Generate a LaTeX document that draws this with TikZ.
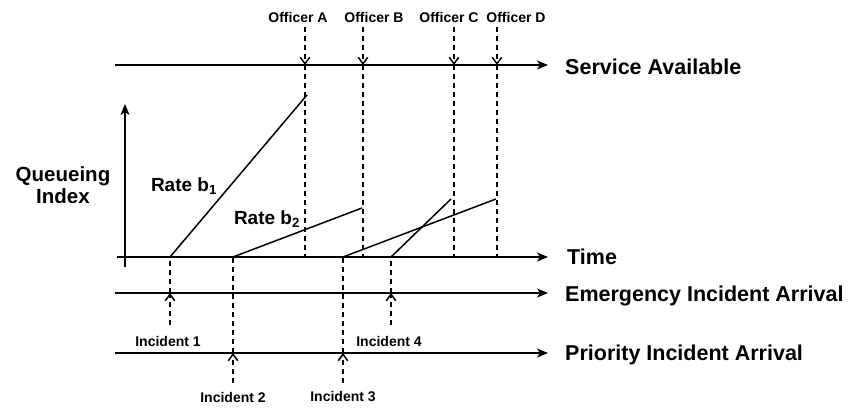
\documentclass[tikz,border=0pt]{standalone}
\usepackage{fontspec}
\setmainfont{Liberation Sans}
\usetikzlibrary{arrows.meta}
\tikzset{
  axisline/.style={line width=1.8pt,-{Stealth[length=11pt,width=9pt,inset=3pt]}},
  rateline/.style={line width=1.5pt},
  dashline/.style={line width=1.5pt,dash pattern=on 5pt off 4pt},
  openarr/.style={dashline,-{Straight Barb[length=6.5pt,width=9.5pt,line width=1.5pt]}},
  biglbl/.style={font=\bfseries\fontsize{21.5}{24}\selectfont,anchor=west,inner sep=0pt},
  ratelbl/.style={font=\bfseries\fontsize{19}{22}\selectfont,inner sep=0pt},
  smalllbl/.style={font=\bfseries\fontsize{14}{16}\selectfont,inner sep=0pt},
}
\begin{document}
\begin{tikzpicture}[x=1pt,y=-1pt]
\useasboundingbox (0,0) rectangle (852,409);
% axes
\coordinate (s0) at (115,65); \coordinate (s1) at (548,65);
\coordinate (t0) at (117,257); \coordinate (t1) at (548,257);
\coordinate (e0) at (115,293); \coordinate (e1) at (548,293);
\coordinate (p0) at (115,353); \coordinate (p1) at (548,353);
\coordinate (v0) at (125,267); \coordinate (v1) at (125,104);
\draw[axisline] (s0) -- (s1);
\draw[axisline] (t0) -- (t1);
\draw[axisline] (e0) -- (e1);
\draw[axisline] (p0) -- (p1);
\draw[axisline] (v0) -- (v1);
% right labels
\node[biglbl] (lserv) at (565,67) {Service Available};
\node[biglbl] (ltime) at (567,257) {Time};
\node[biglbl] (lemer) at (565,296) {Emergency Incident Arrival};
\node[biglbl] (lprio) at (565,355) {Priority Incident Arrival};
% y label
\node[font=\bfseries\fontsize{20.5}{22.5}\selectfont,align=center,inner sep=0pt] (qi) at (63,185) {Queueing\\Index};
% officers
\node[smalllbl] (oA) at (298,17) {Officer A};
\node[smalllbl] (oB) at (374,17) {Officer B};
\node[smalllbl] (oC) at (449,17) {Officer C};
\node[smalllbl] (oD) at (516,17) {Officer D};
\foreach \n/\x in {A/305,B/363,C/454,D/497}{
  \coordinate (ot\n) at (\x,27);
  \coordinate (os\n) at (\x,65);
  \coordinate (ob\n) at (\x,257);
  \draw[openarr] (ot\n) -- (os\n);
  \draw[dashline] (os\n) -- (ob\n);
}
% rate lines
\coordinate (r1a) at (170,257); \coordinate (r1b) at (307,95);
\coordinate (r2a) at (233,257); \coordinate (r2b) at (362,208);
\coordinate (r3a) at (343,257); \coordinate (r3b) at (496,199);
\coordinate (r4a) at (391,257); \coordinate (r4b) at (451,199);
\draw[rateline] (r1a) -- (r1b);
\draw[rateline] (r2a) -- (r2b);
\draw[rateline] (r3a) -- (r3b);
\draw[rateline] (r4a) -- (r4b);
\node[ratelbl] (rb1) at (184,186) {Rate b\textsubscript{1}};
\node[ratelbl] (rb2) at (267,219) {Rate b\textsubscript{2}};
% emergency incidents
\foreach \n/\x in {1/170,4/391}{
  \coordinate (ib\n) at (\x,325);
  \coordinate (ie\n) at (\x,293);
  \coordinate (it\n) at (\x,257);
  \draw[openarr] (ib\n) -- (ie\n);
  \draw[dashline] (ie\n) -- (it\n);
}
% priority incidents
\foreach \n/\x in {2/233,3/343}{
  \coordinate (ib\n) at (\x,383);
  \coordinate (ie\n) at (\x,353);
  \coordinate (it\n) at (\x,257);
  \draw[openarr] (ib\n) -- (ie\n);
  \draw[dashline] (ie\n) -- (it\n);
}
\node[smalllbl] (inc1) at (168,341) {Incident 1};
\node[smalllbl] (inc4) at (389,341) {Incident 4};
\node[smalllbl] (inc2) at (233,397) {Incident 2};
\node[smalllbl] (inc3) at (343,397) {Incident 3};
\end{tikzpicture}
\end{document}
